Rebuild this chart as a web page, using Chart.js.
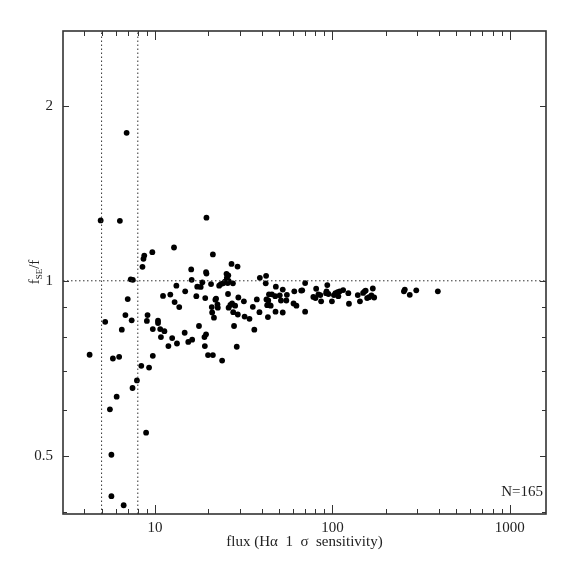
<!DOCTYPE html>
<html>
<head>
<meta charset="utf-8">
<script src="https://cdn.jsdelivr.net/npm/chart.js@4/dist/chart.umd.min.js"></script>
<style>
  html, body { margin: 0; padding: 0; background: #fff; }
  #wrap { width: 574px; height: 574px; }
</style>
</head>
<body>
<div id="wrap"><canvas id="chart" width="574" height="574"></canvas></div>
<script>
// flux (Halpha 1 sigma sensitivity) and f_SE/f for each galaxy
const fluxValues = [
  4.28, 4.94, 5.24, 5.57, 5.68, 5.68, 5.79, 6.08, 6.28, 6.34,
  6.50, 6.66, 6.81, 6.92, 7.02, 7.30, 7.50, 7.39, 7.47, 7.91,
  8.37, 8.50, 8.61, 8.70, 8.91, 9.00, 9.08, 9.26, 9.66, 9.72,
  9.72, 10.4, 10.4, 10.7, 10.8, 11.1, 11.3, 11.9, 12.2, 12.5,
  12.8, 12.9, 13.2, 13.3, 13.7, 14.7, 14.8, 15.4, 16.0, 16.1,
  16.2, 17.1, 17.3, 17.7, 18.1, 18.5, 19.0, 19.1, 19.2, 19.4,
  19.4, 19.5, 19.5, 19.9, 20.7, 20.9, 21.0, 21.2, 21.2, 21.5,
  21.9, 22.1, 22.5, 22.6, 23.0, 23.5, 23.9, 24.2, 24.8, 25.3,
  25.4, 25.7, 25.8, 25.9, 26.0, 26.0, 26.6, 27.0, 27.2, 27.5,
  27.6, 27.9, 28.3, 28.9, 29.2, 29.3, 29.5, 31.7, 32.0, 34.1,
  35.6, 36.3, 37.5, 38.8, 39.0, 42.1, 42.3, 42.5, 42.9, 43.3,
  43.5, 43.9, 44.3, 44.9, 45.6, 47.6, 47.8, 48.0, 50.5, 51.3,
  52.5, 52.5, 55.0, 55.4, 60.4, 61.0, 62.7, 66.7, 67.6, 70.2,
  70.2, 78.1, 80.3, 81.0, 83.4, 85.5, 86.4, 92.2, 92.7, 93.6,
  95.0, 99.4, 102, 104, 107, 108, 110, 115, 123, 124,
  139, 143, 149, 152, 154, 157, 161, 166, 169, 172,
  253, 256, 273, 297, 393
];
const ratioValues = [
  0.746, 1.27, 0.850, 0.601, 0.502, 0.426, 0.735, 0.632, 0.740, 1.268,
  0.824, 0.411, 0.873, 1.797, 0.930, 1.006, 1.004, 0.855, 0.654, 0.674,
  0.714, 1.057, 1.091, 1.105, 0.548, 0.853, 0.873, 0.709, 1.12, 0.826,
  0.743, 0.854, 0.846, 0.826, 0.800, 0.942, 0.819, 0.772, 0.947, 0.797,
  1.141, 0.919, 0.981, 0.780, 0.901, 0.814, 0.959, 0.785, 1.046, 1.004,
  0.792, 0.941, 0.977, 0.836, 0.976, 0.994, 0.800, 0.772, 0.934, 0.809,
  1.035, 1.029, 1.284, 0.745, 0.987, 0.901, 0.882, 1.110, 0.745, 0.864,
  0.928, 0.932, 0.911, 0.899, 0.981, 0.987, 0.729, 0.990, 0.997, 1.028,
  1.012, 0.991, 0.949, 1.022, 1.000, 0.899, 0.909, 1.069, 0.914, 0.990,
  0.883, 0.836, 0.906, 0.770, 1.058, 0.875, 0.936, 0.922, 0.868, 0.860,
  0.902, 0.824, 0.929, 0.883, 1.012, 0.990, 1.020, 0.929, 0.908, 0.866,
  0.925, 0.948, 0.908, 0.906, 0.948, 0.941, 0.885, 0.977, 0.944, 0.925,
  0.966, 0.882, 0.925, 0.946, 0.914, 0.959, 0.906, 0.962, 0.963, 0.991,
  0.885, 0.938, 0.934, 0.969, 0.948, 0.945, 0.922, 0.952, 0.959, 0.983,
  0.949, 0.922, 0.945, 0.952, 0.956, 0.941, 0.959, 0.964, 0.952, 0.913,
  0.945, 0.922, 0.953, 0.959, 0.962, 0.934, 0.937, 0.944, 0.970, 0.936,
  0.959, 0.966, 0.946, 0.963, 0.959
];

// axis ranges and ticks
const xRange = [3.03, 1600];
const yRange = [0.397, 2.69];
const xMajorTicks = [10, 100, 1000];
const xMinorTicks = [4, 5, 6, 7, 8, 9, 20, 30, 40, 50, 60, 70, 80, 90,
  200, 300, 400, 500, 600, 700, 800, 900];
const yMajorTicks = [0.5, 1, 2];
const yMinorTicks = [0.4, 0.6, 0.7, 0.8, 0.9];

// dotted reference lines
const fluxCuts = [5, 8];
const unityRatio = 1;

const nLabel = "N=165";
const serif = "'Liberation Serif', 'DejaVu Serif', serif";

const points = fluxValues.map((f, i) => ({x: f, y: ratioValues[i]}));

const refLine = (data) => ({
  type: "line",
  data,
  borderColor: "#333",
  borderWidth: 1,
  borderDash: [1.5, 2.5],
  pointRadius: 0,
  fill: false,
});

const datasets = [
  ...fluxCuts.map(c => refLine([{x: c, y: yRange[0]}, {x: c, y: yRange[1]}])),
  refLine([{x: xRange[0], y: unityRatio}, {x: xRange[1], y: unityRatio}]),
  {
    type: "scatter",
    data: points,
    backgroundColor: "#000",
    borderWidth: 0,
    pointRadius: 2.9,
  },
];

// frame, inward ticks and labels in the PGPLOT style
const framePlugin = {
  id: "frame",
  afterDraw(chart) {
    const {ctx, chartArea: a, scales} = chart;
    const xs = scales.x;
    const ys = scales.y;
    ctx.save();
    ctx.strokeStyle = "#333";
    ctx.lineWidth = 1;
    const tick = (vals, len, horizontal) => {
      vals.forEach(v => {
        ctx.beginPath();
        if (horizontal) {
          const px = Math.round(xs.getPixelForValue(v)) + 0.5;
          ctx.moveTo(px, a.bottom); ctx.lineTo(px, a.bottom - len);
          ctx.moveTo(px, a.top); ctx.lineTo(px, a.top + len);
        } else {
          const py = Math.round(ys.getPixelForValue(v)) + 0.5;
          ctx.moveTo(a.left, py); ctx.lineTo(a.left + len, py);
          ctx.moveTo(a.right, py); ctx.lineTo(a.right - len, py);
        }
        ctx.stroke();
      });
    };
    tick(xMajorTicks, 9, true);
    tick(xMinorTicks, 5, true);
    tick(yMajorTicks, 6, false);
    tick(yMinorTicks, 4, false);

    ctx.lineWidth = 1.6;
    ctx.strokeStyle = "#333";
    ctx.strokeRect(a.left, a.top, a.right - a.left, a.bottom - a.top);

    ctx.fillStyle = "#222";
    // x title
    ctx.font = "15px " + serif;
    ctx.textAlign = "center";
    ctx.textBaseline = "middle";
    ctx.fillText("flux (H\u03b1  1  \u03c3  sensitivity)", (a.left + a.right) / 2, 542);

    // N label
    ctx.textAlign = "right";
    ctx.fillText(nLabel, a.right - 3, 492);

    // y title, rotated: f_SE / f
    ctx.translate(34, 272);
    ctx.rotate(-Math.PI / 2);
    ctx.textAlign = "left";
    ctx.textBaseline = "alphabetic";
    ctx.font = "15px " + serif;
    const w1 = ctx.measureText("f").width;
    ctx.font = "9px " + serif;
    const w2 = ctx.measureText("SE").width;
    ctx.font = "15px " + serif;
    const w3 = ctx.measureText("/f").width;
    let x0 = -(w1 + w2 + w3) / 2;
    ctx.fillText("f", x0, 5);
    ctx.font = "9px " + serif;
    ctx.fillText("SE", x0 + w1, 8);
    ctx.font = "15px " + serif;
    ctx.fillText("/f", x0 + w1 + w2, 5);
    ctx.restore();
  },
};

new Chart(document.getElementById("chart"), {
  data: {datasets},
  options: {
    responsive: false,
    animation: false,
    events: [],
    layout: {padding: {top: 31, right: 28, left: 0, bottom: 0}},
    plugins: {legend: {display: false}, tooltip: {enabled: false}},
    scales: {
      x: {
        type: "logarithmic",
        min: xRange[0],
        max: xRange[1],
        grid: {display: false, drawTicks: false},
        border: {display: false},
        afterBuildTicks: s => { s.ticks = xMajorTicks.map(v => ({value: v})); },
        afterFit: s => { s.height = 60; },
        ticks: {
          color: "#222",
          padding: 5,
          maxRotation: 0,
          autoSkip: false,
          font: {family: serif, size: 15},
          callback: v => String(v),
        },
      },
      y: {
        type: "logarithmic",
        min: yRange[0],
        max: yRange[1],
        grid: {display: false, drawTicks: false},
        border: {display: false},
        afterBuildTicks: s => { s.ticks = yMajorTicks.map(v => ({value: v})); },
        afterFit: s => { s.width = 63; },
        ticks: {
          color: "#222",
          padding: 10,
          autoSkip: false,
          font: {family: serif, size: 15},
          callback: v => String(v),
        },
      },
    },
  },
  plugins: [framePlugin],
});
</script>
</body>
</html>
